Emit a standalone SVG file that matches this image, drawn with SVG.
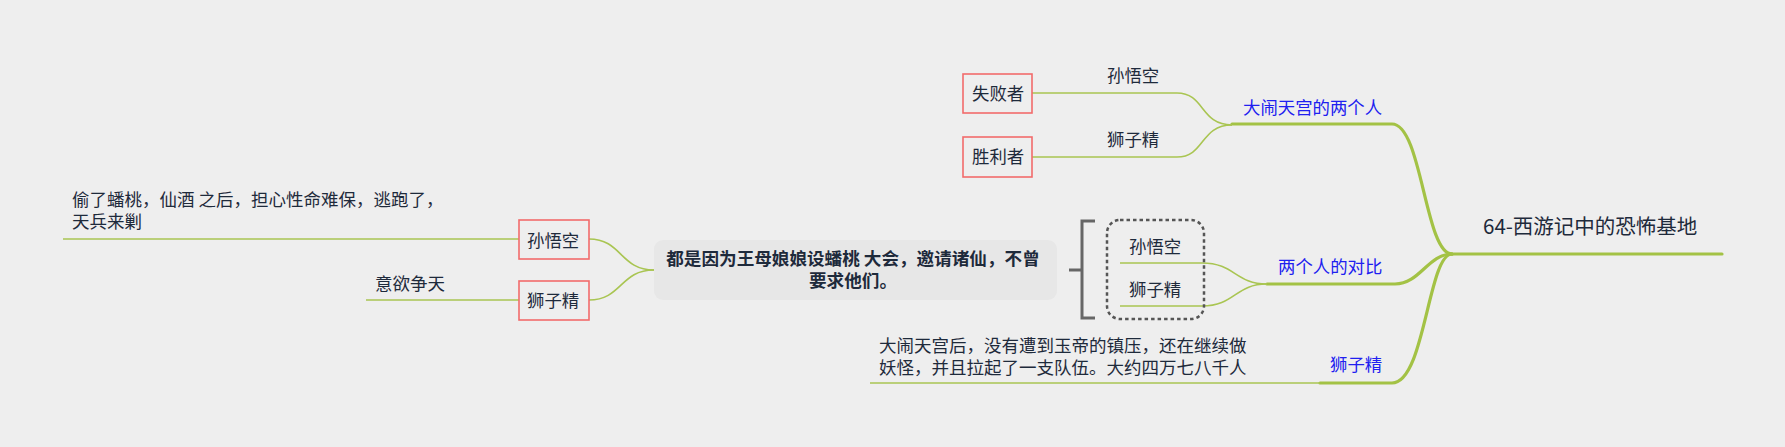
<svg xmlns="http://www.w3.org/2000/svg" width="1785" height="447" viewBox="0 0 1785 447">
<style>
text{font-family:"Noto Sans CJK SC","Noto Sans",sans-serif;fill:#1e2a3b;font-size:17.4px}
.blue{fill:#2020f0}
.small{font-size:17.5px}
.title{font-size:20.5px}
.bold{font-weight:bold;font-size:17.6px}
.thick{fill:none;stroke:#a3c245;stroke-width:3.2;stroke-linecap:round}
.thin{fill:none;stroke:#a9c552;stroke-width:1.6}
.box{fill:#eeeeee;stroke:#f26b6b;stroke-width:1.6}
</style>
<rect width="1785" height="447" fill="#eeeeee"/>
<g id="connectors">
<path class="thick" d="M1722,254 H1452"/>
<path class="thick" d="M1452,254 C1425,254 1422,124 1392,124 H1232"/>
<path class="thick" d="M1452,254 C1428,254 1420,284 1395,284 H1267"/>
<path class="thick" d="M1452,254 C1428,254 1425,383 1392,383 H1320"/>
<path class="thin" d="M1232,125 C1200,125 1205,93 1177,93 H1032"/>
<path class="thin" d="M1232,125 C1200,125 1205,157 1177,157 H1032"/>
<path class="thin" d="M1267,284 C1235,284 1235,263 1202,263 H1120"/>
<path class="thin" d="M1267,284 C1235,284 1235,306 1202,306 H1120"/>
<path class="thin" d="M1320,383 H870"/>
<path class="thin" d="M654,270 C620,270 622,239 589,239"/>
<path class="thin" d="M654,270 C620,270 622,300 589,300"/>
<path class="thin" d="M519,239 H63"/>
<path class="thin" d="M519,300 H366"/>
</g>
<g id="root"><text class="title" x="1483" y="234">64-西游记中的恐怖基地</text></g>
<g id="branch1"><text class="blue" x="1243" y="114">大闹天宫的两个人</text></g>
<g id="label-swk1"><text x="1107" y="82">孙悟空</text></g>
<g id="label-szj1"><text x="1107" y="146">狮子精</text></g>
<g id="node-fail"><rect class="box" x="963" y="74" width="69" height="39"/><text x="972" y="100">失败者</text></g>
<g id="node-win"><rect class="box" x="963" y="137" width="69" height="40"/><text x="972" y="163">胜利者</text></g>
<g id="branch2"><text class="blue" x="1278" y="273">两个人的对比</text></g>
<g id="summary-group"><rect x="1107" y="220" width="97" height="99" rx="13" fill="none" stroke="#555" stroke-width="2.5" stroke-dasharray="3.5 3"/></g>
<g id="node-swk2"><text x="1129" y="253">孙悟空</text></g>
<g id="node-szj2"><text x="1129" y="296">狮子精</text></g>
<g id="bracket"><path d="M1095,221 H1082 V318 H1095 M1082,270 H1069" fill="none" stroke="#666" stroke-width="3"/></g>
<g id="branch3"><text class="blue" x="1330" y="371">狮子精</text></g>
<g id="node-long"><text class="small" x="879" y="352">大闹天宫后，没有遭到玉帝的镇压，还在继续做</text><text class="small" x="879" y="374">妖怪，并且拉起了一支队伍。大约四万七八千人</text></g>
<g id="node-center"><rect x="654" y="240" width="403" height="60" rx="9" fill="#e7e7e7"/><text class="bold" x="853" y="265" text-anchor="middle">都是因为王母娘娘设蟠桃 大会，邀请诸仙，不曾</text><text class="bold" x="853" y="287" text-anchor="middle">要求他们。</text></g>
<g id="node-swk3"><rect class="box" x="519" y="220" width="70" height="39"/><text x="527" y="247">孙悟空</text></g>
<g id="node-szj3"><rect class="box" x="519" y="281" width="70" height="39"/><text x="527" y="307">狮子精</text></g>
<g id="node-steal"><text class="small" x="72" y="206">偷了蟠桃，仙酒 之后，担心性命难保，逃跑了，</text><text class="small" x="72" y="228">天兵来剿</text></g>
<g id="node-ambition"><text class="small" x="375" y="290">意欲争天</text></g>
</svg>
